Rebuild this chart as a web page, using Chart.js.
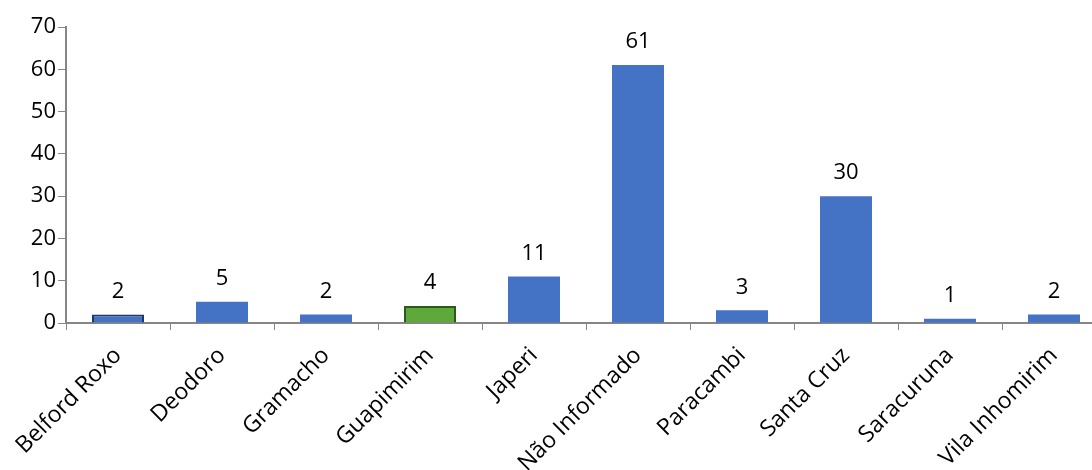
<!DOCTYPE html>
<html><head><meta charset="utf-8">
<script src="https://cdn.jsdelivr.net/npm/chart.js@4/dist/chart.umd.min.js"></script>
<style>html,body{margin:0;padding:0;background:#fff;overflow:hidden}#wrap{width:1106px;height:470px}</style>
</head><body><div id="wrap"><canvas id="c"></canvas></div>
<script>
const categories = ["Belford Roxo","Deodoro","Gramacho","Guapimirim","Japeri","Não Informado","Paracambi","Santa Cruz","Saracuruna","Vila Inhomirim"];
const values = [2,5,2,4,11,61,3,30,1,2];
const yTicks = [0,10,20,30,40,50,60,70];
const barColors = ["#4472c4","#4472c4","#4472c4","#5fa83a","#4472c4","#4472c4","#4472c4","#4472c4","#4472c4","#4472c4"];
const borderColors = ["#1f3864","#4472c4","#4472c4","#2d5a1b","#4472c4","#4472c4","#4472c4","#4472c4","#4472c4","#4472c4"];
const FONT = "'Open Sans', 'Liberation Sans', sans-serif";

const labelPlugin = {
  id:'vals',
  afterDatasetsDraw(chart){
    const ctx = chart.ctx;
    const meta = chart.getDatasetMeta(0);
    ctx.save();
    ctx.font = "22px " + FONT;
    ctx.fillStyle = "#000";
    ctx.textAlign = "center";
    ctx.textBaseline = "bottom";
    meta.data.forEach((bar,i)=>{
      ctx.fillText(String(values[i]), bar.x, bar.y - 12);
    });
    ctx.restore();
  }
};

new Chart(document.getElementById('c'), {
  type:'bar',
  data:{labels:categories, datasets:[{data:values, backgroundColor:barColors, borderColor:borderColors, borderWidth:[2,0,0,2,0,0,0,0,0,0], barPercentage:0.5, categoryPercentage:1.0}]},
  options:{
    responsive:true, maintainAspectRatio:false, animation:false,
    layout:{padding:{top:27,right:0,left:0,bottom:0}},
    plugins:{legend:{display:false}, tooltip:{enabled:false}},
    scales:{
      x:{
        afterFit(s){ s.height = 147; },
        grid:{offset:true, drawOnChartArea:false, color:'#868686', tickLength:7},
        border:{color:'#868686', width:2},
        ticks:{font:{size:23, family:FONT}, color:'#000', maxRotation:45, minRotation:45, padding:12}
      },
      y:{
        min:0, max:70,
        afterFit(s){ s.width = 66; },
        afterBuildTicks(s){ s.ticks = yTicks.map(v=>({value:v})); },
        grid:{drawOnChartArea:false, color:'#868686', tickLength:8},
        border:{color:'#868686', width:2},
        ticks:{font:{size:22, family:FONT}, color:'#000', padding:2}
      }
    }
  },
  plugins:[labelPlugin]
});
</script></body></html>
